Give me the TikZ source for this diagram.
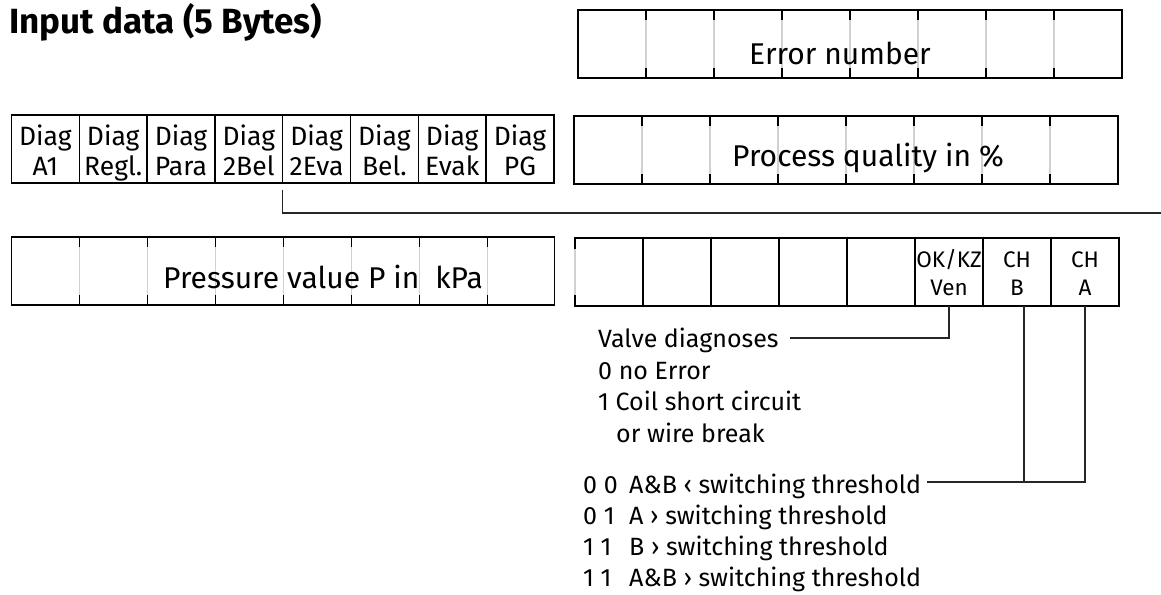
\documentclass[tikz,border=0pt]{standalone}
\usepackage{fontspec}
\setmainfont{Fira Sans}
\begin{document}
\begin{tikzpicture}[x=1pt,y=-1pt,
  cell/.style={draw=black,line width=1.5pt,minimum width=67.8pt,minimum height=68pt,inner sep=0pt,outer sep=0pt},
  frame/.style={draw=black,line width=1.8pt,minimum width=544pt,minimum height=68pt,inner sep=0pt,outer sep=0pt,anchor=north west},
  grid/.style={draw=black!18,line width=1.6pt},
  tick/.style={draw=black,line width=1.8pt},
  conn/.style={draw=black!85,line width=1.2pt},
  big/.style={font=\fontsize{30}{34}\selectfont,anchor=base,inner sep=0pt},
  lbl/.style={font=\fontsize{26.5}{30}\selectfont,anchor=base,inner sep=0pt},
  small/.style={font=\fontsize{22.5}{25}\selectfont,anchor=base,inner sep=0pt},
  note/.style={font=\fontsize{25}{30}\selectfont,anchor=base west,inner sep=0pt},
]
\useasboundingbox (0,0) rectangle (1161,594);

% title
\node[anchor=base west,inner sep=0pt,font=\bfseries\fontsize{35}{40}\selectfont] (title) at (9,34) {Input data (5 Bytes)};

% tick-style registers: grey dividers with black ticks
\foreach \x/\y in {578/10, 574/116, 11.5/237}{
  \foreach \i in {1,...,7}{
    \draw[grid] ({\x+\i*68},\y) -- ++(0,68);
    \draw[tick] ({\x+\i*68},\y) -- ++(0,10);
    \draw[tick] ({\x+\i*68},{\y+68}) -- ++(0,-10);
  }
}
\node[frame] (err) at (578,10) {};
\node[frame] (proc) at (574,116) {};
\node[frame,minimum width=543pt] (press) at (11.5,237) {};

\node[big] (errt) at (840,64) {Error number};
\node[big] (proct) at (868,166) {Process quality in \%};
\node[big] (presst) at (323,288) {Pressure value P in\ \ kPa};

% diag row
\foreach \t/\b [count=\i] in {Diag/A1, Diag/Regl., Diag/Para, Diag/2Bel, Diag/2Eva, Diag/Bel., Diag/Evak, Diag/PG}{
  \node[cell] (d\i) at ({11.5+(\i-0.5)*67.8},149) {};
  \node[lbl] (dt\i) at ({11.5+(\i-0.5)*67.8},145) {\t};
  \node[lbl] (db\i) at ({11.5+(\i-0.5)*67.8},175) {\b};
}

% right register of row 3
\foreach \i in {1,...,8}{
  \node[cell,minimum width=68pt] (c\i) at ({575+(\i-0.5)*68},272) {};
}
\draw[grid,line width=2.2pt] (575,249) -- (575,295);

\node[small] (okt) at (c6.center |- 0,267) {OK/KZ};
\node[small] (okb) at (c6.center |- 0,295) {Ven};
\node[small] (cbt) at (c7.center |- 0,267) {CH};
\node[small] (cbb) at (c7.center |- 0,295) {B};
\node[small] (cat) at (c8.center |- 0,267) {CH};
\node[small] (cab) at (c8.center |- 0,295) {A};

% connector from diag row
\coordinate (dsplit) at (282.7,190);
\coordinate (rend) at (1161,213);
\draw[conn] (dsplit) |- (rend);

% valve notes
\node[note] (valve) at (598,347) {Valve diagnoses};
\node[note] (v0) at (598,379) {0 no Error};
\node[note] (v1) at (598,410) {1 Coil short circuit};
\node[note] (v2) at (616,442) {or wire break};
\coordinate (vstart) at (790,338);
\draw[conn] (c6.south) |- (vstart);

% threshold notes
\node[note] (b1) at (583,493) {0 0};
\node[note] (b2) at (583,524) {0 1};
\node[note] (b3) at (583,555) {1 1};
\node[note] (b4) at (583,586) {1 1};
\node[note] (t1) at (629,493) {A\&B ‹ switching threshold};
\node[note] (t2) at (629,524) {A › switching threshold};
\node[note] (t3) at (629,555) {B › switching threshold};
\node[note] (t4) at (629,586) {A\&B › switching threshold};
\coordinate (tstart) at (927,482);
\coordinate (bdrop) at (1024,306);
\draw[conn] (c8.south) |- (tstart);
\draw[conn] (bdrop) -- (bdrop |- tstart);
\end{tikzpicture}
\end{document}
